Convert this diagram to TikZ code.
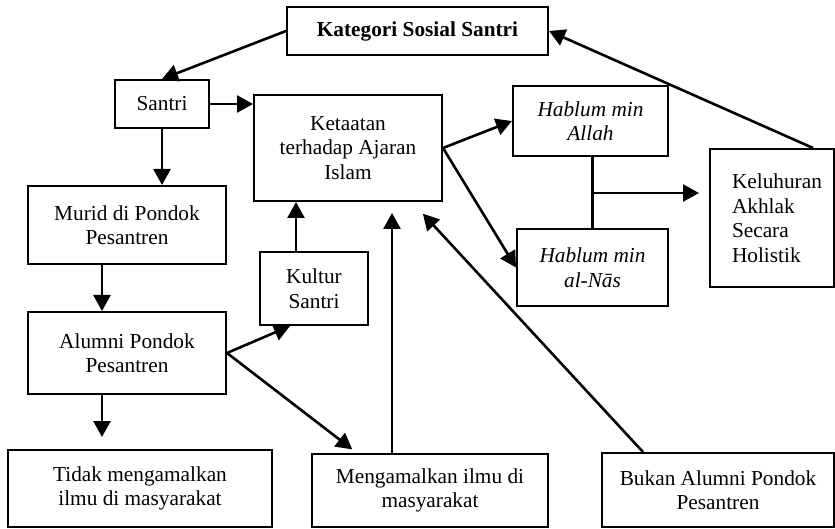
\documentclass[tikz,border=0pt]{standalone}
\usepackage{fontspec}
\setmainfont{Liberation Serif}
\usetikzlibrary{arrows.meta}

\begin{document}
\begin{tikzpicture}[x=1pt,y=-1pt,font=\fontsize{21.3}{24.5}\selectfont,
    >={Triangle[length=16pt,width=17pt]}]
            \useasboundingbox (0,0) rectangle (835,529);
            \begin{scope}[every node/.style={draw=black,line width=2pt,inner sep=2pt,align=center}]
                \node[minimum width=261pt,minimum height=48pt,font=\fontsize{21.3}{24.5}\selectfont\bfseries] (kategori) at (417.5,31) {Kategori Sosial Santri};
                \node[minimum width=94pt,minimum height=48pt] (santri) at (162,104) {Santri};
                \node[minimum width=188pt,minimum height=106pt] (ketaatan) at (348,148) {Ketaatan\\terhadap Ajaran\\Islam};

                \node[minimum width=198pt,minimum height=78pt] (murid) at (127,225) {Murid di Pondok\\Pesantren};
                \node[minimum width=108pt,minimum height=73pt] (kultur) at (314,288.5) {Kultur\\Santri};
                \node[minimum width=198pt,minimum height=82pt] (alumni) at (127,353) {Alumni Pondok\\Pesantren};

                \node[minimum width=264pt,minimum height=77pt] (tidak) at (140,488.5) {Tidak mengamalkan\\ilmu di masyarakat};
                \node[minimum width=236pt,minimum height=73pt] (mengamalkan) at (430,490.5) {Mengamalkan ilmu di\\masyarakat};
                \node[minimum width=232pt,minimum height=74pt] (bukan) at (718,490) {Bukan Alumni Pondok\\Pesantren};

                \node[minimum width=155pt,minimum height=70pt] (allah) at (590.5,121) {\textit{Hablum min}\\\textit{Allah}};
                \node[minimum width=151pt,minimum height=77pt] (nas) at (592.5,267.5) {\textit{Hablum min}\\\textit{al-Nās}};
                \node[minimum width=124pt,minimum height=138pt,inner xsep=22pt,text width=80pt,align=left] (keluhuran) at (772,218) {Keluhuran\\Akhlak\\Secara\\Holistik\\[-8pt]};
            \end{scope}
            \coordinate (hubung) at (592,193);
            \begin{scope}[every edge/.style={draw,line width=2.6pt}]
                \path [->] (kategori.west) edge (santri.north);
                \path [->] (santri.east) edge (santri.east -| ketaatan.west);
                \path [->] (santri.south) edge (santri.south |- murid.north);
                \path [->] ([xshift=-25pt]murid.south) edge ([xshift=-25pt]alumni.north);
                \path [->,shorten >=12pt] ([xshift=-25pt]alumni.south) edge ([xshift=-38pt]tidak.north);

                \path [->] (alumni.east) edge ([xshift=-24pt]kultur.south);
                \path [->,shorten >=6pt] (alumni.east) edge ([xshift=46pt]mengamalkan.north west);
                \path [->] ([xshift=-18pt]kultur.north) edge ([xshift=-52pt]ketaatan.south);
                \path [->,shorten >=11pt] ([xshift=-38pt]mengamalkan.north) edge ([xshift=44pt]ketaatan.south);
                \path [->,shorten >=16pt] ([xshift=-75pt]bukan.north) edge ([xshift=64pt]ketaatan.south);

                \path [->] (ketaatan.east) edge (allah.west);
                \path [->] (ketaatan.east) edge (nas.west);
                \path [-] (nas.north |- allah.south) edge (nas.north);
                \path [->,shorten >=10pt] (hubung) edge (hubung -| keluhuran.west);
                \path [->] ([xshift=41pt]keluhuran.north) edge (kategori.east);
            \end{scope}
        \end{tikzpicture}
\end{document}
